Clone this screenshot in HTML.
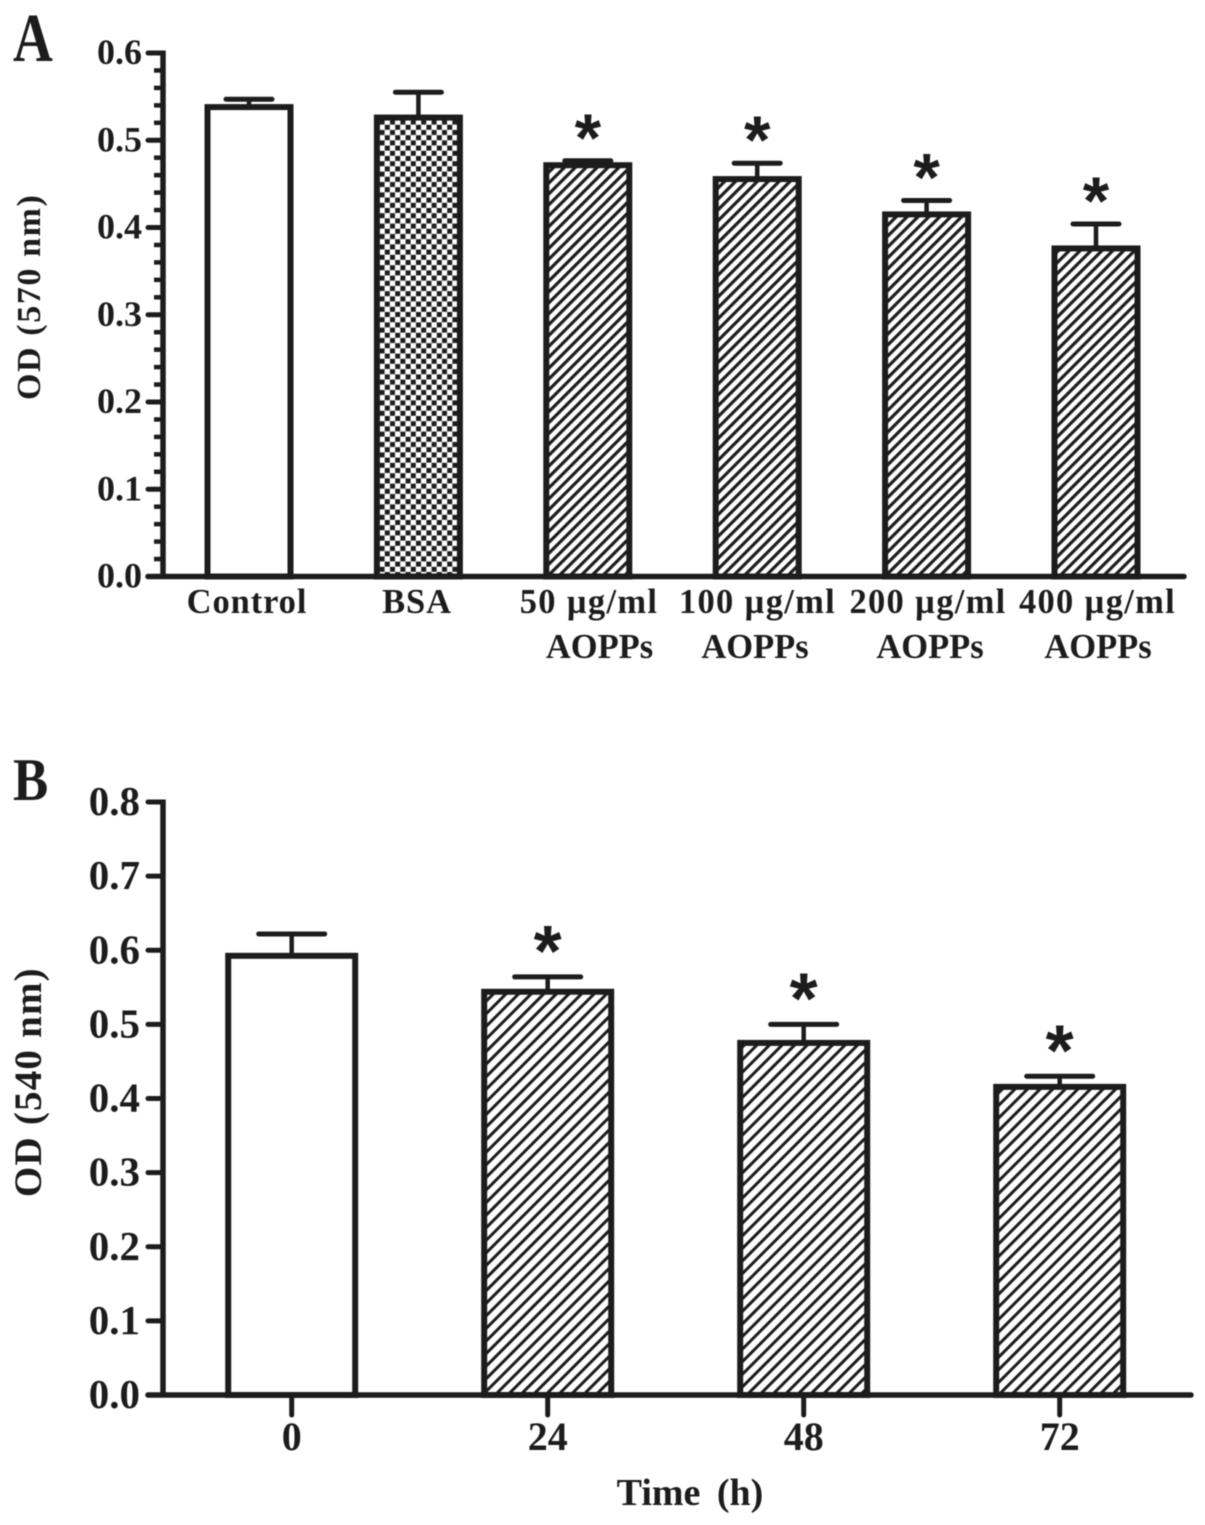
<!DOCTYPE html>
<html lang="en">
<head>
<meta charset="utf-8">
<title>OD bar charts</title>
<style>
  html, body { margin: 0; padding: 0; background: #fff; }
  svg { display: block; filter: blur(0.45px); }
  text { font-family: "Liberation Serif", serif; font-weight: bold; fill: #1c1c1c; }
</style>
</head>
<body>
<svg id="figure" xmlns="http://www.w3.org/2000/svg" width="1205" height="1525" viewBox="0 0 1205 1525">
  <defs>
    <pattern id="hatch-a" patternUnits="userSpaceOnUse" width="7.7" height="7.7" patternTransform="rotate(-45)">
      <rect width="7.7" height="7.7" fill="#fff"/>
      <rect width="7.7" height="3.2" fill="#1c1c1c"/>
    </pattern>
    <pattern id="hatch-b" patternUnits="userSpaceOnUse" width="8.9" height="8.9" patternTransform="rotate(-45)">
      <rect width="8.9" height="8.9" fill="#fff"/>
      <rect width="8.9" height="3" fill="#1c1c1c"/>
    </pattern>
    <pattern id="checker" patternUnits="userSpaceOnUse" width="10.4" height="10.4">
      <rect width="10.4" height="10.4" fill="#fff"/>
      <rect width="5" height="5" fill="#1c1c1c"/>
      <rect x="5.2" y="5.2" width="5" height="5" fill="#1c1c1c"/>
    </pattern>
  </defs>

  <rect width="1205" height="1525" fill="#fff"/>

  <g id="panel-a"></g>
  <g id="panel-b"></g>

  <text transform="translate(13 61) scale(0.8 1)" font-size="69">A</text>
  <text transform="translate(13 800) scale(0.88 1)" font-size="60">B</text>

  <text transform="translate(40 400) rotate(-90)" font-size="34" letter-spacing="1.6">OD (570 nm)</text>
  <text transform="translate(41 1197) rotate(-90)" font-size="39" letter-spacing="1.2">OD (540 nm)</text>

  <g font-size="34.5" text-anchor="middle">
    <text x="247" y="613" letter-spacing="0.9">Control</text>
    <text x="417" y="613" letter-spacing="0.9">BSA</text>
    <text x="589" y="613" letter-spacing="1.3">50 µg/ml</text>
    <text x="599.5" y="658" letter-spacing="0">AOPPs</text>
    <text x="757.5" y="613" letter-spacing="1.3">100 µg/ml</text>
    <text x="755" y="658" letter-spacing="0">AOPPs</text>
    <text x="928" y="613" letter-spacing="1.3">200 µg/ml</text>
    <text x="930" y="658" letter-spacing="0">AOPPs</text>
    <text x="1097.5" y="613" letter-spacing="1.3">400 µg/ml</text>
    <text x="1098" y="658" letter-spacing="0">AOPPs</text>
  </g>

  <text x="690" y="1505" font-size="38" text-anchor="middle" word-spacing="7">Time (h)</text>
</svg>

<script>
// Panel A data
const categoriesA = ["Control", "BSA", "50 µg/ml AOPPs", "100 µg/ml AOPPs", "200 µg/ml AOPPs", "400 µg/ml AOPPs"];
const valuesA = [0.538, 0.526, 0.4714, 0.4555, 0.415, 0.376];
const errorTopsA = [0.547, 0.555, 0.4765, 0.4737, 0.431, 0.404];
const fillsA = ["plain", "checker", "hatch", "hatch", "hatch", "hatch"];
const significantA = [false, false, true, true, true, true];
const yTicksA = ["0.0", "0.1", "0.2", "0.3", "0.4", "0.5", "0.6"];

// Panel B data
const categoriesB = ["0", "24", "48", "72"];
const valuesB = [0.5925, 0.544, 0.475, 0.4157];
const errorTopsB = [0.622, 0.564, 0.5, 0.43];
const fillsB = ["plain", "hatch", "hatch", "hatch"];
const significantB = [false, true, true, true];
const yTicksB = ["0.0", "0.1", "0.2", "0.3", "0.4", "0.5", "0.6", "0.7", "0.8"];

const SVGNS = "http://www.w3.org/2000/svg";
const INK = "#1c1c1c";

function add(parent, tag, attrs) {
  const el = document.createElementNS(SVGNS, tag);
  for (const k in attrs) el.setAttribute(k, attrs[k]);
  parent.appendChild(el);
  return el;
}

function drawPanel(root, cfg) {
  const y = v => cfg.y0 - (v / cfg.yMax) * (cfg.y0 - cfg.yTop);
  const x = i => cfg.x0 + i * cfg.step;

  // bars
  cfg.values.forEach((v, i) => {
    const fill = cfg.fills[i] === "plain" ? "#fff"
      : cfg.fills[i] === "checker" ? "url(#checker)" : "url(#" + cfg.hatch + ")";
    const bar = add(root, "rect", {
      x: x(i) - cfg.barW / 2, y: y(v), width: cfg.barW, height: cfg.y0 - y(v),
      fill: fill, stroke: INK, "stroke-width": cfg.barStroke
    });
    
    

    const stem = add(root, "line", {
      x1: x(i), x2: x(i), y1: y(v), y2: y(cfg.errors[i]),
      stroke: INK, "stroke-width": 4.5
    });
    
    

    const cap = add(root, "line", {
      x1: x(i) - cfg.capW / 2, x2: x(i) + cfg.capW / 2,
      y1: y(cfg.errors[i]), y2: y(cfg.errors[i]),
      stroke: INK, "stroke-width": 5, "stroke-linecap": "round"
    });
    
    

    if (cfg.significant[i]) {
      const star = add(root, "text", {
        x: x(i), y: y(cfg.errors[i]) - cfg.starGap,
        "text-anchor": "middle", "font-size": cfg.starSize
      });
      star.style.fontFamily = '"Liberation Sans", sans-serif';
      star.textContent = "*";
      
      
    }
  });

  // y axis line and x axis line
  const yAxis = add(root, "line", {
    x1: cfg.axisX, x2: cfg.axisX, y1: cfg.yTop - 2.5, y2: cfg.y0 + 2.5,
    stroke: INK, "stroke-width": 5.5
  });
  
  

  const xAxis = add(root, "line", {
    x1: cfg.xStart, x2: cfg.xEnd, y1: cfg.y0, y2: cfg.y0,
    stroke: INK, "stroke-width": 5.5, "stroke-linecap": "round"
  });
  
  

  // y ticks and labels
  cfg.yTicks.forEach((label, i) => {
    const v = parseFloat(label);
    const tick = add(root, "line", {
      x1: cfg.xStart, x2: cfg.axisX, y1: y(v), y2: y(v),
      stroke: INK, "stroke-width": 5, "stroke-linecap": "round"
    });
    
    

    const t = add(root, "text", {
      x: cfg.labelX, y: y(v) + cfg.labelDy,
      "text-anchor": "end", "font-size": cfg.labelSize
    });
    t.textContent = label;
    
    

    if (cfg.minor > 0 && i < cfg.yTicks.length - 1) {
      const next = parseFloat(cfg.yTicks[i + 1]);
      for (let m = 1; m < cfg.minor; m++) {
        const mv = v + (next - v) * m / cfg.minor;
        const mt = add(root, "line", {
          x1: cfg.axisX - 9, x2: cfg.axisX, y1: y(mv), y2: y(mv),
          stroke: INK, "stroke-width": 4.5
        });
        
        
      }
    }
  });

  // x ticks and numeric category labels
  if (cfg.xTickLabels) {
    cfg.xTickLabels.forEach((label, i) => {
      const xt = add(root, "line", {
        x1: x(i), x2: x(i), y1: cfg.y0, y2: cfg.y0 + 20,
        stroke: INK, "stroke-width": 5, "stroke-linecap": "round"
      });
      
      

      const t = add(root, "text", {
        x: x(i), y: cfg.y0 + 55, "text-anchor": "middle", "font-size": 40
      });
      t.textContent = label;
      
      
    });
  }
}

drawPanel(document.getElementById("panel-a"), {
  values: valuesA, errors: errorTopsA, fills: fillsA, significant: significantA, yTicks: yTicksA,
  y0: 576.5, yTop: 53, yMax: 0.6, x0: 249, step: 169.4, barW: 83, barStroke: 6, capW: 46,
  hatch: "hatch-a", axisX: 163, xStart: 148, xEnd: 1184, labelX: 142, labelDy: 11, labelSize: 36,
  minor: 5, starGap: 0, starSize: 68
});

drawPanel(document.getElementById("panel-b"), {
  values: valuesB, errors: errorTopsB, fills: fillsB, significant: significantB, yTicks: yTicksB,
  y0: 1395, yTop: 802, yMax: 0.8, x0: 291.7, step: 256, barW: 127, barStroke: 6, capW: 66,
  hatch: "hatch-b", axisX: 163, xStart: 148, xEnd: 1191, labelX: 140, labelDy: 13, labelSize: 41,
  minor: 0, starGap: 1, starSize: 72, xTickLabels: categoriesB
});
</script>
</body>
</html>
